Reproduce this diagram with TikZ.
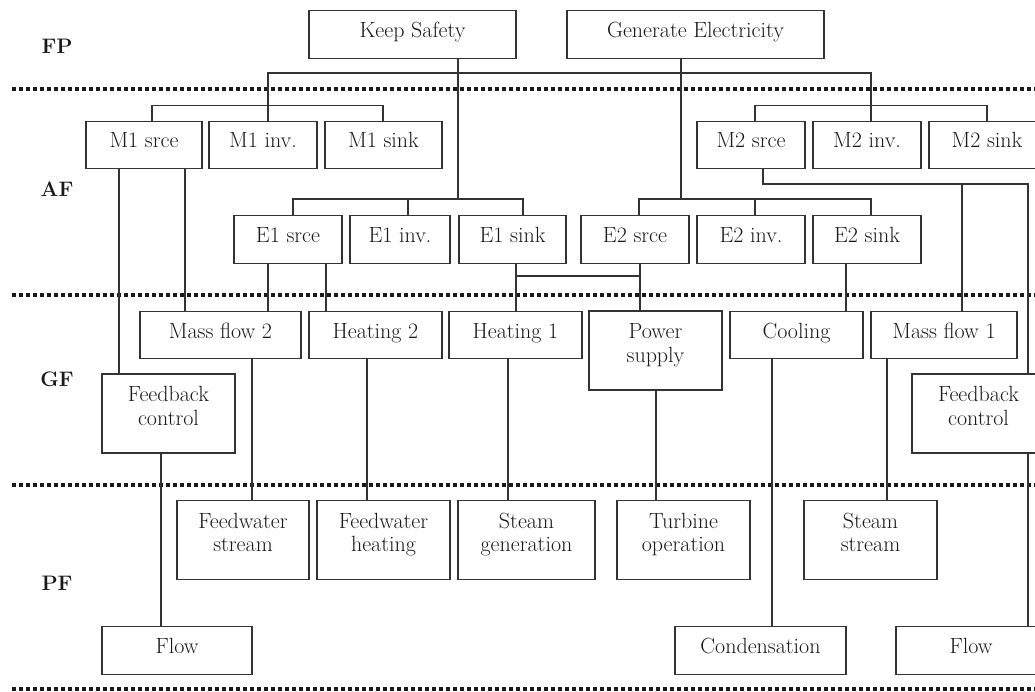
\documentclass[tikz,border=0pt]{standalone}
\usepackage{fontspec}
\begin{document}
\begin{tikzpicture}
  [x=1pt,y=-1pt,
   every node/.style={font=\fontsize{22}{23.3}\selectfont,text=black!90},
   box/.style={draw=black!80,line width=1.4pt,fill=white,inner sep=0pt,
     text height=16pt,text depth=10pt,minimum height=47.5pt},
   tall/.style={box,align=center,minimum height=79pt,text height=39pt,text depth=16pt},
   layer/.style={font=\fontsize{21}{24}\selectfont\bfseries},
   wire/.style={draw=black!80,line width=1.2pt},
   sep/.style={line width=3.5pt,dash pattern=on 3.5pt off 3.5pt,black!90}]
  \useasboundingbox (0,0) rectangle (1035,692);

  \foreach \y in {89,295,485,689}
    \draw[sep] (12,\y) -- (1035,\y);

  \node[layer] (fp) at (57,46)  {FP};
  \node[layer] (af) at (57,189) {AF};
  \node[layer] (gf) at (57,379) {GF};
  \node[layer] (pf) at (57,583) {PF};

  % goals
  \node[box,minimum width=207] (ks) at (412.5,34.5) {Keep Safety};
  \node[box,minimum width=257] (ge) at (695.5,34.5) {Generate Electricity};

  % abstract functions
  \node[box,minimum width=116] (m1s) at (144,145)   {M1 srce};
  \node[box,minimum width=108] (m1i) at (263,145)   {M1 inv.};
  \node[box,minimum width=117] (m1k) at (383.5,145) {M1 sink};
  \node[box,minimum width=108] (m2s) at (751,145)   {M2 srce};
  \node[box,minimum width=108] (m2i) at (867,145)   {M2 inv.};
  \node[box,minimum width=116] (m2k) at (987,145)   {M2 sink};
  \node[box,minimum width=108] (e1s) at (288,239.5)   {E1 srce};
  \node[box,minimum width=100] (e1i) at (400,239.5)   {E1 inv.};
  \node[box,minimum width=107] (e1k) at (512.5,239.5) {E1 sink};
  \node[box,minimum width=108] (e2s) at (635,239.5)   {E2 srce};
  \node[box,minimum width=108] (e2i) at (751,239.5)   {E2 inv.};
  \node[box,minimum width=108] (e2k) at (867,239.5)   {E2 sink};

  % generalised functions
  \node[box,minimum width=161] (mf2)  at (220.5,335) {Mass flow 2};
  \node[box,minimum width=133] (h2)   at (375.5,335) {Heating 2};
  \node[box,minimum width=133] (h1)   at (515.5,335) {Heating 1};
  \node[tall,minimum width=133] (ps)  at (655.5,350.5) {Power\\supply};
  \node[box,minimum width=133] (cool) at (796.5,335) {Cooling};
  \node[box,minimum width=146] (mf1)  at (944,335)   {Mass flow 1};
  \node[tall,minimum width=133] (fbl) at (168.5,413.5) {Feedback\\control};
  \node[tall,minimum width=133] (fbr) at (978.5,413.5) {Feedback\\control};

  % physical functions
  \node[tall,minimum width=132] (fws)  at (243,540)   {Feedwater\\stream};
  \node[tall,minimum width=133] (fwh)  at (383.5,540) {Feedwater\\heating};
  \node[tall,minimum width=137] (sg)   at (526.5,540) {Steam\\generation};
  \node[tall,minimum width=133] (turb) at (683.5,540) {Turbine\\operation};
  \node[tall,minimum width=133] (ss)   at (870.5,540) {Steam\\stream};
  \node[box,minimum width=150] (flowl) at (177,650.5)  {Flow};
  \node[box,minimum width=171] (cond)  at (760.5,650.5) {Condensation};
  \node[box,minimum width=150] (flowr) at (971,650.5)  {Flow};

  \coordinate (jl)  at (268,73);
  \coordinate (jr)  at (871,73);
  \coordinate (e1j) at (458,200);
  \coordinate (e2j) at (681,200);
  \coordinate (mj1) at (962,184);
  \coordinate (mj2) at (1028,184);
  \coordinate (hl)  at (516,276);
  \coordinate (hr)  at (640,276);

  \draw[wire] (m1i.north -| jl) -- (jl) -- (jr) -- (m2i.north -| jr);
  \draw[wire] (ks.south -| e1j) -- (e1j);
  \draw[wire] (ge.south -| e2j) -- (e2j);
  \draw[wire] (m1s.north -| 152,0) -- ++(0,-15) -| (m1k.north -| 383,0);
  \draw[wire] (m2s.north -| 755,0) -- ++(0,-15) -| (m2k.north -| 987,0);
  \draw[wire] (e1s.north -| 293,0) -- ++(0,-16) -| (e1k.north -| 523,0);
  \draw[wire] (e2s.north -| 639,0) -- ++(0,-16) -| (e2k.north -| 871,0);
  \draw[wire] (e1i.north -| 408,0) -- ++(0,-16);
  \draw[wire] (e2i.north -| 755,0) -- ++(0,-16);
  \draw[wire] (hl) -- (hr);
  \draw[wire] (m2s.south -| 763,0) |- (mj2) -- (fbr.north -| mj2);
  \draw[wire] (mj1) -- (mf1.north -| mj1);

  \foreach \a/\b/\x in {m1s/fbl/119,m1s/mf2/185,e1s/mf2/268,e1s/h2/326,
      e1k/h1/516,e2s/ps/640,e2k/cool/846,mf2/fws/252,h2/fwh/367,h1/sg/508,
      ps/turb/656,cool/cond/772,mf1/ss/887,fbl/flowl/161,fbr/flowr/1028}
    \draw[wire] (\a.south -| \x,0) -- (\b.north -| \x,0);

\end{tikzpicture}
\end{document}
